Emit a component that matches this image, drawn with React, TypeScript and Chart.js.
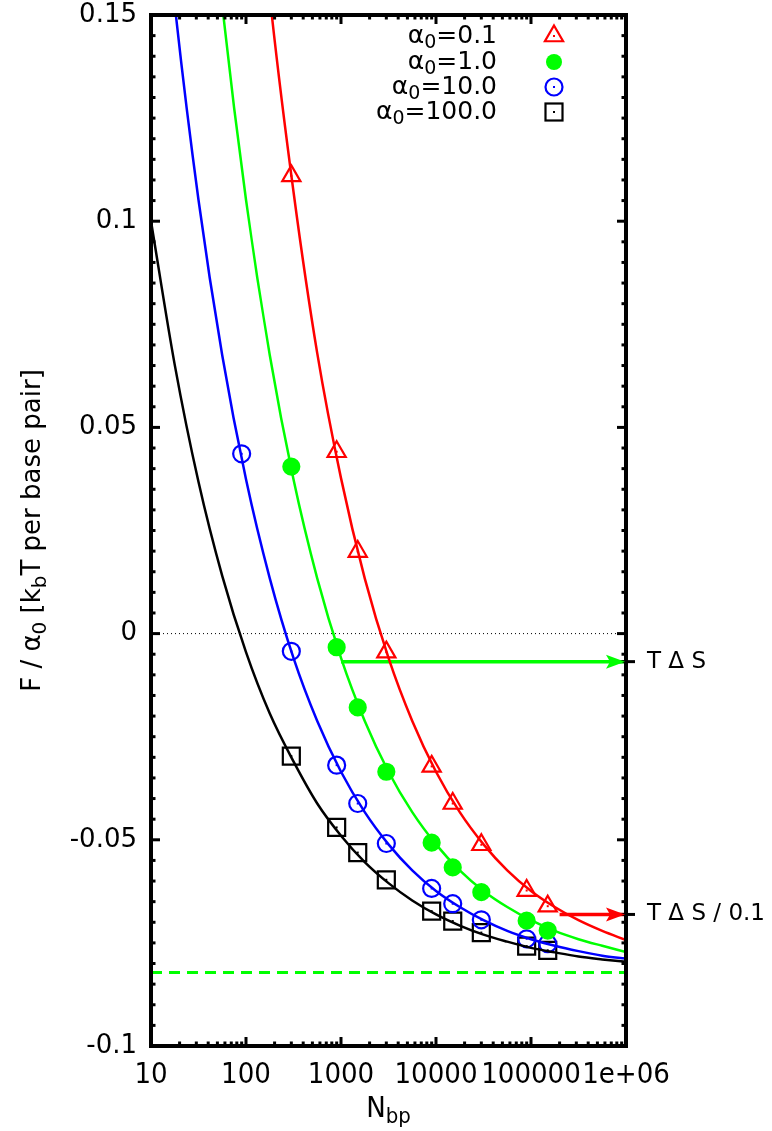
import React, { useEffect, useRef } from "react";
import { Chart, registerables } from "chart.js";

Chart.register(...registerables);

// ---------- data ----------
const X_TICKS = [10, 100, 1000, 10000, 100000, 1000000];
const X_TICK_LABELS = ["10", "100", "1000", "10000", "100000", "1e+06"];
const Y_TICKS = [-0.1, -0.05, 0, 0.05, 0.1, 0.15];
const Y_TICK_LABELS = ["-0.1", "-0.05", "0", "0.05", "0.1", "0.15"];

const CURVE_N = [10, 17.8, 31.6, 56.2, 100, 178, 316, 562, 1000, 1778, 3162, 5623, 10000, 17783, 31623, 56234, 100000, 177828, 316228, 562341, 1000000];
const CURVE_RED = [null, null, null, null, 0.215, 0.1545, 0.1072, 0.068, 0.0377, 0.0134, -0.0059, -0.0212, -0.0335, -0.0433, -0.0511, -0.0574, -0.0624, -0.0663, -0.0695, -0.0721, -0.0743];
const CURVE_GREEN = [null, null, 0.2114, 0.1524, 0.1052, 0.0675, 0.0374, 0.0134, -0.0059, -0.0212, -0.0335, -0.0433, -0.0511, -0.0574, -0.0624, -0.0663, -0.0695, -0.0721, -0.0741, -0.0757, -0.0772];
const CURVE_BLUE = [0.2114, 0.1524, 0.1052, 0.0675, 0.0374, 0.0134, -0.0059, -0.0212, -0.0335, -0.0433, -0.0511, -0.0574, -0.0624, -0.0663, -0.0695, -0.0721, -0.0741, -0.0757, -0.077, -0.0781, -0.0788];
const CURVE_BLACK = [0.1, 0.0651, 0.0368, 0.014, -0.0045, -0.0194, -0.031, -0.0412, -0.049, -0.0554, -0.0605, -0.0647, -0.0681, -0.0708, -0.073, -0.0747, -0.0762, -0.0773, -0.0783, -0.079, -0.0796];

// simulation points
const POINT_N = [300, 900, 1500, 3000, 9000, 15000, 30000, 90000, 150000];
const BLUE_POINT_N = [90, 300, 900, 1500, 3000, 9000, 15000, 30000, 90000, 150000];
const RED_POINTS = [0.111, 0.0441, 0.0199, -0.0045, -0.0322, -0.0412, -0.0512, -0.0623, -0.0661];
const GREEN_POINTS = [0.0405, -0.0033, -0.0179, -0.0335, -0.0507, -0.0567, -0.0627, -0.0696, -0.072];
const BLUE_POINTS = [0.0436, -0.0043, -0.0319, -0.0412, -0.0509, -0.0618, -0.0655, -0.0694, -0.074, -0.0752];
const BLACK_POINTS = [-0.0297, -0.047, -0.0531, -0.0597, -0.0673, -0.0697, -0.0725, -0.0758, -0.0768];

const SERIES_ALPHA = ["0.1", "1.0", "10.0", "100.0"];
const ZERO_LEVEL = 0;
const ASYMPTOTE_LEVEL = -0.0822;
const ENTROPY_LEVELS = [-0.0068, -0.0681];
const ENTROPY_LABELS = ["T \u0394 S", "T \u0394 S / 0.1"];
const ARROW_START_N = [1000, 200000];

const X_MIN = 10;
const X_MAX = 1000000;
const Y_MIN = -0.1;
const Y_MAX = 0.15;

const RED = "#ff0000";
const GREEN = "#00ff00";
const BLUE = "#0000ff";
const BLACK = "#000000";
const FONT = "'DejaVu Sans', Verdana, sans-serif";
const XFONT = "'DejaVu Sans Condensed', 'DejaVu Sans', sans-serif";

const W = 772;
const H = 1131;
const AREA = { left: 151, right: 626, top: 15, bottom: 1046 };

function xy(xs: number[], ys: (number | null)[]) {
  const out: { x: number; y: number }[] = [];
  xs.forEach((x, i) => {
    const y = ys[i];
    if (y !== null && y !== undefined) out.push({ x, y });
  });
  return out;
}

type Part = { t: string; sub?: boolean };

function drawRich(ctx: CanvasRenderingContext2D, parts: Part[], x: number, y: number, size: number, align: "left" | "right" | "center", family = FONT) {
  const fontFor = (p: Part) => `${p.sub ? Math.round(size * 0.75) : size}px ${family}`;
  let total = 0;
  const widths = parts.map((p) => {
    ctx.font = fontFor(p);
    const w = ctx.measureText(p.t).width;
    total += w;
    return w;
  });
  let cx = align === "left" ? x : align === "right" ? x - total : x - total / 2;
  ctx.textBaseline = "middle";
  ctx.textAlign = "left";
  parts.forEach((p, i) => {
    ctx.font = fontFor(p);
    ctx.fillText(p.t, cx, p.sub ? y + size * 0.3 : y);
    cx += widths[i];
  });
}

const TRI_R = 10.5;
const DISC_R = 8;
const CIRC_R = 8.5;
const SQ_HALF = 8.5;

function drawMarker(ctx: CanvasRenderingContext2D, kind: string, x: number, y: number) {
  ctx.save();
  ctx.lineWidth = 2.2;
  if (kind === "triangle") {
    ctx.strokeStyle = RED;
    ctx.beginPath();
    for (let k = 0; k < 3; k++) {
      const a = (k * 2 * Math.PI) / 3;
      const px = x + Math.sin(a) * TRI_R;
      const py = y - Math.cos(a) * TRI_R;
      if (k === 0) ctx.moveTo(px, py);
      else ctx.lineTo(px, py);
    }
    ctx.closePath();
    ctx.stroke();
    ctx.fillStyle = RED;
    ctx.fillRect(x - 1, y - 1, 2, 2);
  } else if (kind === "disc") {
    ctx.fillStyle = GREEN;
    ctx.beginPath();
    ctx.arc(x, y, DISC_R, 0, Math.PI * 2);
    ctx.fill();
  } else if (kind === "circle") {
    ctx.strokeStyle = BLUE;
    ctx.beginPath();
    ctx.arc(x, y, CIRC_R, 0, Math.PI * 2);
    ctx.stroke();
    ctx.fillStyle = BLUE;
    ctx.fillRect(x - 1, y - 1, 2, 2);
  } else {
    ctx.strokeStyle = BLACK;
    ctx.strokeRect(x - SQ_HALF, y - SQ_HALF, 2 * SQ_HALF, 2 * SQ_HALF);
    ctx.fillStyle = BLACK;
    ctx.fillRect(x - 1, y - 1, 2, 2);
  }
  ctx.restore();
}

const decorPlugin = {
  id: "decor",
  afterDatasetsDraw(chart: any) {
    const ctx: CanvasRenderingContext2D = chart.ctx;
    const dotSets: [number, string][] = [[4, RED], [6, BLUE], [7, BLACK]];
    ctx.save();
    dotSets.forEach(([idx, col]) => {
      const meta = chart.getDatasetMeta(idx);
      ctx.fillStyle = col;
      meta.data.forEach((el: any) => ctx.fillRect(el.x - 1, el.y - 1, 2, 2));
    });
    ctx.restore();
  },
  afterDraw(chart: any) {
    const ctx: CanvasRenderingContext2D = chart.ctx;
    const xs = chart.scales.x;
    const ys = chart.scales.y;
    const { left, right, top, bottom } = chart.chartArea;
    ctx.save();
    ctx.strokeStyle = BLACK;
    ctx.lineWidth = 3;
    ctx.lineCap = "butt";
    const tick = (x1: number, y1: number, x2: number, y2: number) => {
      ctx.beginPath();
      ctx.moveTo(x1, y1);
      ctx.lineTo(x2, y2);
      ctx.stroke();
    };
    for (let d = X_MIN; d <= X_MAX; d *= 10) {
      const px = xs.getPixelForValue(d);
      tick(px, bottom, px, bottom - 9);
      tick(px, top, px, top + 9);
      if (d < X_MAX) {
        for (let k = 2; k <= 9; k++) {
          const mx = xs.getPixelForValue(k * d);
          tick(mx, bottom, mx, bottom - 4.5);
          tick(mx, top, mx, top + 4.5);
        }
      }
    }
    for (let i = 0; i <= 50; i++) {
      const v = Y_MIN + i * 0.005;
      const py = ys.getPixelForValue(v);
      const major = i % 10 === 0;
      const len = major ? 9 : 4.5;
      tick(left, py, left + len, py);
      tick(right, py, right - len, py);
    }
    ENTROPY_LEVELS.forEach((v) => {
      const py = ys.getPixelForValue(v);
      tick(right - 9, py, right + 9, py);
    });
    ctx.lineWidth = 4;
    ctx.strokeRect(left, top, right - left, bottom - top);

    const heads: [number, string][] = [[ENTROPY_LEVELS[0], GREEN], [ENTROPY_LEVELS[1], RED]];
    heads.forEach(([v, col]) => {
      const py = ys.getPixelForValue(v);
      ctx.fillStyle = col;
      ctx.beginPath();
      ctx.moveTo(right - 1, py);
      ctx.lineTo(right - 20, py - 7);
      ctx.lineTo(right - 16, py);
      ctx.lineTo(right - 20, py + 7);
      ctx.closePath();
      ctx.fill();
    });

    const kinds = ["triangle", "disc", "circle", "square"];
    const rowY = [36, 62, 87, 112];
    SERIES_ALPHA.forEach((a, i) => {
      ctx.fillStyle = BLACK;
      drawRich(ctx, [{ t: "\u03b1" }, { t: "0", sub: true }, { t: "=" + a }], 497, rowY[i], 25, "right");
      drawMarker(ctx, kinds[i], 554, rowY[i]);
    });

    ctx.fillStyle = BLACK;
    drawRich(ctx, [{ t: "N" }, { t: "bp", sub: true }], (left + right) / 2, 1109, 29, "center", XFONT);
    ctx.save();
    ctx.translate(33, (top + bottom) / 2);
    ctx.rotate(-Math.PI / 2);
    drawRich(
      ctx,
      [{ t: "F / \u03b1" }, { t: "0", sub: true }, { t: " [k" }, { t: "b", sub: true }, { t: "T per base pair]" }],
      0,
      0,
      26,
      "center"
    );
    ctx.restore();
    ctx.restore();
  },
};

export default function App() {
  const ref = useRef<HTMLCanvasElement | null>(null);
  useEffect(() => {
    if (!ref.current) return;
    const line = (data: any[], color: string, width: number, extra: any = {}) => ({
      type: "line",
      data,
      borderColor: color,
      backgroundColor: color,
      borderWidth: width,
      pointRadius: 0,
      fill: false,
      ...extra,
    });
    const pts = (data: any[], style: string, color: string, radius: number, filled: boolean) => ({
      type: "line",
      data,
      showLine: false,
      pointStyle: style,
      pointRadius: radius,
      pointBorderWidth: 2.2,
      pointBorderColor: color,
      pointBackgroundColor: filled ? color : "rgba(0,0,0,0)",
      borderColor: color,
    });
    const zeroPad = (s: any) => {
      s.paddingTop = 0;
      s.paddingBottom = 0;
      s.paddingLeft = 0;
      s.paddingRight = 0;
    };
    const chart = new Chart(ref.current, {
      type: "line",
      data: {
        datasets: [
          line(xy(CURVE_N, CURVE_RED), RED, 2.5, { cubicInterpolationMode: "monotone" }),
          line(xy(CURVE_N, CURVE_GREEN), GREEN, 2.5, { cubicInterpolationMode: "monotone" }),
          line(xy(CURVE_N, CURVE_BLUE), BLUE, 2.5, { cubicInterpolationMode: "monotone" }),
          line(xy(CURVE_N, CURVE_BLACK), BLACK, 2.5, { cubicInterpolationMode: "monotone" }),
          pts(xy(POINT_N, RED_POINTS), "triangle", RED, TRI_R, false),
          pts(xy(POINT_N, GREEN_POINTS), "circle", GREEN, DISC_R, true),
          pts(xy(BLUE_POINT_N, BLUE_POINTS), "circle", BLUE, CIRC_R, false),
          pts(xy(POINT_N, BLACK_POINTS), "rect", BLACK, SQ_HALF * Math.SQRT2, false),
          line([{ x: X_MIN, y: ZERO_LEVEL }, { x: X_MAX, y: ZERO_LEVEL }], BLACK, 1, { borderDash: [1, 3] }),
          line([{ x: X_MIN, y: ASYMPTOTE_LEVEL }, { x: X_MAX, y: ASYMPTOTE_LEVEL }], GREEN, 3, { borderDash: [11, 7] }),
          line([{ x: ARROW_START_N[0], y: ENTROPY_LEVELS[0] }, { x: X_MAX, y: ENTROPY_LEVELS[0] }], GREEN, 3.5),
          line([{ x: ARROW_START_N[1], y: ENTROPY_LEVELS[1] }, { x: X_MAX, y: ENTROPY_LEVELS[1] }], RED, 3.5),
        ] as any,
      },
      options: {
        responsive: false,
        animation: false,
        events: [],
        layout: { padding: { top: AREA.top, left: 0, right: 0, bottom: 0 } },
        plugins: { legend: { display: false }, tooltip: { enabled: false }, title: { display: false } },
        scales: {
          x: {
            type: "logarithmic",
            min: X_MIN,
            max: X_MAX,
            grid: { display: false, drawTicks: false },
            border: { display: false },
            afterBuildTicks: (s: any) => {
              s.ticks = X_TICKS.map((v) => ({ value: v }));
            },
            afterFit: (s: any) => {
              s.height = H - AREA.bottom;
              zeroPad(s);
            },
            ticks: {
              autoSkip: false,
              maxRotation: 0,
              padding: 12,
              color: BLACK,
              font: { family: XFONT, size: 29 },
              callback: (v: any) => {
                const i = X_TICKS.findIndex((t) => Math.abs(t - Number(v)) / t < 1e-6);
                return i >= 0 ? X_TICK_LABELS[i] : "";
              },
            },
          },
          y: {
            type: "linear",
            position: "left",
            min: Y_MIN,
            max: Y_MAX,
            grid: { display: false, drawTicks: false },
            border: { display: false },
            afterBuildTicks: (s: any) => {
              s.ticks = Y_TICKS.map((v) => ({ value: v }));
            },
            afterFit: (s: any) => {
              s.width = AREA.left;
              zeroPad(s);
            },
            ticks: {
              padding: 14,
              color: BLACK,
              font: { family: FONT, size: 26 },
              callback: (v: any) => {
                const i = Y_TICKS.findIndex((t) => Math.abs(t - Number(v)) < 1e-9);
                return i >= 0 ? Y_TICK_LABELS[i] : "";
              },
            },
          },
          y2: {
            type: "linear",
            position: "right",
            min: Y_MIN,
            max: Y_MAX,
            grid: { display: false, drawTicks: false },
            border: { display: false },
            afterBuildTicks: (s: any) => {
              s.ticks = ENTROPY_LEVELS.map((v) => ({ value: v }));
            },
            afterFit: (s: any) => {
              s.width = W - AREA.right;
              zeroPad(s);
            },
            ticks: {
              padding: 21,
              color: BLACK,
              font: { family: FONT, size: 23 },
              callback: (v: any) => {
                const i = ENTROPY_LEVELS.findIndex((t) => Math.abs(t - Number(v)) < 1e-9);
                return i >= 0 ? ENTROPY_LABELS[i] : "";
              },
            },
          },
        },
      } as any,
      plugins: [decorPlugin],
    });
    return () => chart.destroy();
  }, []);
  return (
    <div style={{ position: "fixed", left: 0, top: 0, width: W, height: H, background: "#fff" }}>
      <canvas ref={ref} width={W} height={H} style={{ width: W, height: H, display: "block" }} />
    </div>
  );
}
